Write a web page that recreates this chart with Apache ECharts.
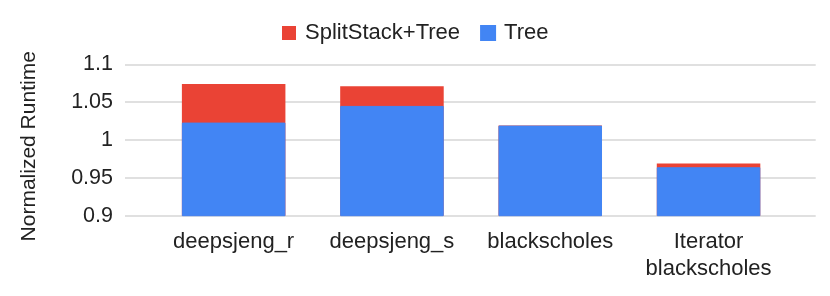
<!DOCTYPE html>
<html>
<head>
<meta charset="utf-8">
<script src="https://cdn.jsdelivr.net/npm/echarts@6/dist/echarts.min.js"></script>
<style>html,body{margin:0;padding:0;background:#fff}#c{width:830px;height:296px}</style>
</head>
<body>
<div id="c"></div>
<script>
var categories = ['deepsjeng_r', 'deepsjeng_s', 'blackscholes', 'Iterator\nblackscholes'];
var splitStackTree = [1.074, 1.071, 1.019, 0.969];
var tree = [1.023, 1.045, 1.019, 0.964];
var yTicks = [0.9, 0.95, 1, 1.05, 1.1];

var FONT = 'Arial, "Liberation Sans", sans-serif';
var chart = echarts.init(document.getElementById('c'), null, {renderer: 'canvas'});
var gridTop = 64.3, gridBottom = 296 - 215.7;
chart.setOption({
  animation: false,
  backgroundColor: '#ffffff',
  legend: {
    left: 277, top: 17,
    itemWidth: 14, itemHeight: 14, itemGap: 20,
    icon: 'rect',
    textStyle: {fontFamily: FONT, fontSize: 22, color: '#222222', padding: [0, 0, 0, 4]},
    data: ['SplitStack+Tree', 'Tree']
  },
  grid: [
    {left: 125, right: 14.3, top: gridTop, bottom: gridBottom},
    {left: 154.5, right: 42.3, top: gridTop, bottom: gridBottom}
  ],
  xAxis: [
    {gridIndex: 0, type: 'value', show: false, min: 0, max: 1},
    {gridIndex: 1, type: 'category', data: categories,
     axisLine: {show: false}, axisTick: {show: false},
     axisLabel: {fontFamily: FONT, fontSize: 22, color: '#222222', margin: 13, lineHeight: 27, interval: 0}}
  ],
  yAxis: [
    {gridIndex: 0, type: 'value', min: yTicks[0], max: yTicks[yTicks.length - 1], interval: 0.05,
     axisLine: {show: false}, axisTick: {show: false},
     axisLabel: {fontFamily: FONT, fontSize: 21.5, color: '#222222', margin: 12,
       formatter: function (v) { return String(Math.round(v * 100) / 100); }},
     splitLine: {lineStyle: {color: '#d6d6d6', width: 1.5}}},
    {gridIndex: 1, type: 'value', min: yTicks[0], max: yTicks[yTicks.length - 1], interval: 0.05, show: false,
     splitLine: {show: false}}
  ],
  graphic: [{
    type: 'text', rotation: Math.PI / 2, x: 29, y: 146.3,
    style: {text: 'Normalized Runtime', font: '21px ' + FONT, fill: '#222222', textAlign: 'center', textVerticalAlign: 'middle'}
  }],
  series: [
    {name: 'SplitStack+Tree', type: 'bar', xAxisIndex: 1, yAxisIndex: 1, data: splitStackTree,
     barWidth: '65.4%', barGap: '-100%', itemStyle: {color: '#EA4335'}},
    {name: 'Tree', type: 'bar', xAxisIndex: 1, yAxisIndex: 1, data: tree,
     barWidth: '65.4%', barGap: '-100%', itemStyle: {color: '#4285F4', borderColor: '#4285F4', borderWidth: 1}}
  ]
});
</script>
</body>
</html>
